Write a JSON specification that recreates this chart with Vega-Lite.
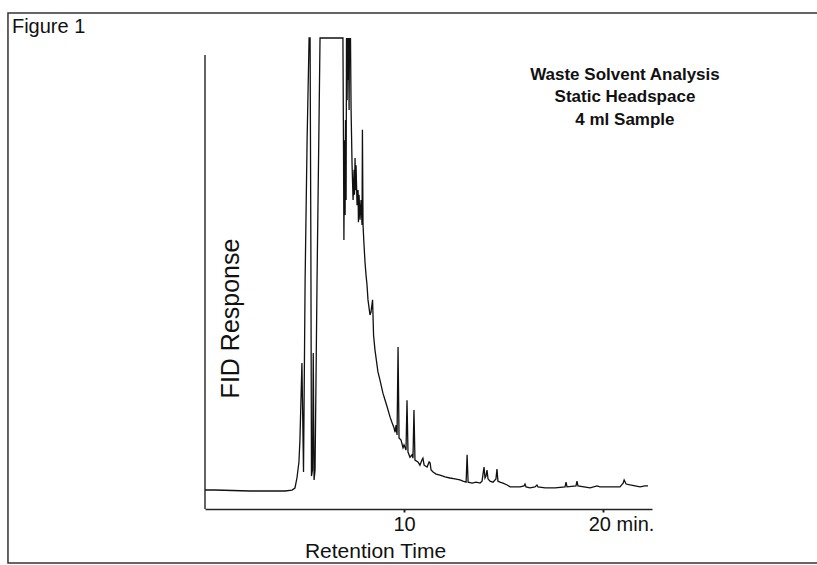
{
  "$schema": "https://vega.github.io/schema/vega-lite/v6.json",
  "width": 447,
  "height": 471,
  "autosize": {"type": "none"},
  "padding": {"left": 205, "top": 38, "right": 165, "bottom": 56},
  "background": "white",
  "config": {"view": {"stroke": null}, "font": "Liberation Sans"},
  "datasets": {
    "trace": [
      {"t": 0, "v": 4.03}, {"t": 0.5, "v": 4.03}, {"t": 2.26, "v": 3.82}, {"t": 4.02, "v": 3.82},
      {"t": 4.37, "v": 4.03}, {"t": 4.52, "v": 4.46}, {"t": 4.62, "v": 6.58}, {"t": 4.72, "v": 9.98},
      {"t": 4.77, "v": 14.65}, {"t": 4.87, "v": 31.0}, {"t": 4.95, "v": 7.86}, {"t": 5.03, "v": 48.6},
      {"t": 5.13, "v": 78.3}, {"t": 5.23, "v": 100}, {"t": 5.28, "v": 100}, {"t": 5.32, "v": 55.0},
      {"t": 5.35, "v": 7.0}, {"t": 5.40, "v": 8.28}, {"t": 5.44, "v": 33.1}, {"t": 5.48, "v": 6.16},
      {"t": 5.53, "v": 8.28}, {"t": 5.63, "v": 48.6}, {"t": 5.73, "v": 82.6}, {"t": 5.78, "v": 100},
      {"t": 6.93, "v": 100}, {"t": 6.96, "v": 76.2}, {"t": 6.98, "v": 57.1}, {"t": 7.01, "v": 78.3},
      {"t": 7.04, "v": 62.4}, {"t": 7.06, "v": 82.6}, {"t": 7.09, "v": 65.6}, {"t": 7.11, "v": 100},
      {"t": 7.14, "v": 86.8}, {"t": 7.16, "v": 100}, {"t": 7.19, "v": 91.1}, {"t": 7.21, "v": 100},
      {"t": 7.24, "v": 84.7}, {"t": 7.26, "v": 100}, {"t": 7.29, "v": 95.3}, {"t": 7.31, "v": 100},
      {"t": 7.34, "v": 84.7}, {"t": 7.39, "v": 73.0}, {"t": 7.44, "v": 65.6}, {"t": 7.49, "v": 72.0},
      {"t": 7.51, "v": 66.7}, {"t": 7.54, "v": 74.5}, {"t": 7.56, "v": 67.7}, {"t": 7.59, "v": 73.0},
      {"t": 7.64, "v": 64.5}, {"t": 7.69, "v": 67.7}, {"t": 7.71, "v": 60.9}, {"t": 7.74, "v": 66.7},
      {"t": 7.79, "v": 61.4}, {"t": 7.84, "v": 65.6}, {"t": 7.89, "v": 60.3}, {"t": 7.91, "v": 80.5},
      {"t": 7.94, "v": 60.3}, {"t": 7.99, "v": 56.1}, {"t": 8.04, "v": 52.4}, {"t": 8.09, "v": 49.7},
      {"t": 8.14, "v": 47.6}, {"t": 8.19, "v": 44.4}, {"t": 8.29, "v": 41.2}, {"t": 8.34, "v": 41.8},
      {"t": 8.42, "v": 44.4}, {"t": 8.47, "v": 36.9}, {"t": 8.54, "v": 33.8}, {"t": 8.69, "v": 29.1},
      {"t": 8.79, "v": 27.4}, {"t": 8.94, "v": 24.6}, {"t": 9.05, "v": 23.1}, {"t": 9.15, "v": 21.7},
      {"t": 9.30, "v": 19.5}, {"t": 9.40, "v": 18.3}, {"t": 9.50, "v": 17.2}, {"t": 9.55, "v": 16.3},
      {"t": 9.60, "v": 17.8}, {"t": 9.65, "v": 15.7}, {"t": 9.70, "v": 34.4}, {"t": 9.75, "v": 15.1},
      {"t": 9.85, "v": 14.65}, {"t": 9.95, "v": 13.0}, {"t": 10.00, "v": 13.6}, {"t": 10.10, "v": 12.5},
      {"t": 10.15, "v": 23.1}, {"t": 10.20, "v": 12.1}, {"t": 10.30, "v": 11.0}, {"t": 10.40, "v": 11.5},
      {"t": 10.45, "v": 10.8}, {"t": 10.50, "v": 21.0}, {"t": 10.55, "v": 10.4}, {"t": 10.70, "v": 10.0},
      {"t": 10.80, "v": 9.3}, {"t": 10.90, "v": 10.4}, {"t": 10.95, "v": 10.8}, {"t": 11.01, "v": 9.3},
      {"t": 11.16, "v": 8.9}, {"t": 11.26, "v": 10.0}, {"t": 11.31, "v": 9.8}, {"t": 11.36, "v": 8.28},
      {"t": 11.46, "v": 7.86}, {"t": 11.61, "v": 7.4}, {"t": 11.81, "v": 7.2}, {"t": 12.06, "v": 6.8},
      {"t": 12.31, "v": 6.58}, {"t": 12.56, "v": 6.4}, {"t": 12.81, "v": 6.16}, {"t": 12.96, "v": 5.9},
      {"t": 13.12, "v": 5.7}, {"t": 13.17, "v": 11.5}, {"t": 13.22, "v": 5.7}, {"t": 13.42, "v": 5.5},
      {"t": 13.62, "v": 5.7}, {"t": 13.82, "v": 5.5}, {"t": 13.92, "v": 5.9}, {"t": 14.02, "v": 8.9},
      {"t": 14.07, "v": 6.58}, {"t": 14.12, "v": 7.0}, {"t": 14.17, "v": 8.28}, {"t": 14.22, "v": 6.4},
      {"t": 14.32, "v": 5.9}, {"t": 14.47, "v": 5.7}, {"t": 14.62, "v": 6.4}, {"t": 14.67, "v": 8.5},
      {"t": 14.72, "v": 5.9}, {"t": 14.82, "v": 5.7}, {"t": 14.97, "v": 5.5}, {"t": 15.18, "v": 5.1},
      {"t": 15.33, "v": 4.7}, {"t": 15.58, "v": 4.7}, {"t": 15.83, "v": 4.7}, {"t": 16.03, "v": 4.9},
      {"t": 16.08, "v": 5.3}, {"t": 16.13, "v": 4.7}, {"t": 16.33, "v": 4.5}, {"t": 16.58, "v": 4.7},
      {"t": 16.68, "v": 5.1}, {"t": 16.73, "v": 4.7}, {"t": 17.09, "v": 4.5}, {"t": 17.59, "v": 4.5},
      {"t": 18.09, "v": 4.7}, {"t": 18.14, "v": 5.7}, {"t": 18.19, "v": 4.7}, {"t": 18.64, "v": 4.9},
      {"t": 18.69, "v": 5.9}, {"t": 18.74, "v": 4.9}, {"t": 19.35, "v": 4.5}, {"t": 19.70, "v": 4.9},
      {"t": 19.85, "v": 4.7}, {"t": 20.35, "v": 4.7}, {"t": 20.85, "v": 4.7}, {"t": 21.01, "v": 5.5},
      {"t": 21.06, "v": 6.16}, {"t": 21.16, "v": 5.3}, {"t": 21.36, "v": 5.1}, {"t": 21.61, "v": 4.9},
      {"t": 21.86, "v": 4.7}, {"t": 22.11, "v": 4.9}, {"t": 22.26, "v": 4.9}
    ]
  },
  "layer": [
    {
      "data": {"name": "trace"},
      "mark": {"type": "line", "color": "#111", "strokeWidth": 1.3, "clip": false, "interpolate": "linear"},
      "encoding": {
        "x": {
          "field": "t", "type": "quantitative",
          "scale": {"domain": [0, 22.46], "nice": false, "zero": false},
          "axis": {
            "values": [10, 20],
            "labelExpr": "datum.value == 20 ? '20 min.' : datum.label",
            "grid": false,
            "domainColor": "#222", "domainWidth": 1.5,
            "tickColor": "#222", "tickSize": 3, "tickWidth": 2,
            "labelFont": "Liberation Sans", "labelFontSize": 20, "labelColor": "#111",
            "labelPadding": 2,
            "labelOffset": {"condition": {"test": "datum.value == 20", "value": 18}, "value": 0},
            "title": "Retention Time",
            "titleFont": "Liberation Sans", "titleFontSize": 21, "titleFontWeight": "normal", "titleColor": "#111",
            "titleX": 170, "titleY": 48, "titleBaseline": "alphabetic", "titleAlign": "center"
          }
        },
        "y": {
          "field": "v", "type": "quantitative",
          "scale": {"domain": [0, 100], "nice": false, "zero": false},
          "axis": {
            "domain": false, "ticks": false, "labels": false, "grid": false,
            "title": "FID Response",
            "titleFont": "Liberation Sans", "titleFontSize": 25, "titleFontWeight": "normal", "titleColor": "#111",
            "titleAngle": 270, "titleX": 25, "titleY": 280, "titleAlign": "center", "titleBaseline": "middle"
          }
        }
      }
    },
    {
      "data": {"values": [{"item": "frame"}]},
      "mark": {"type": "rect", "fill": null, "stroke": "#333", "strokeWidth": 1.5, "clip": false},
      "encoding": {
        "x": {"datum": -9.9, "type": "quantitative"},
        "x2": {"datum": 30.9},
        "y": {"datum": 105.3, "type": "quantitative"},
        "y2": {"datum": -11.46}
      }
    },
    {
      "data": {"values": [{"item": "yaxis"}]},
      "mark": {"type": "rule", "color": "#222", "strokeWidth": 1.4, "clip": false},
      "encoding": {
        "x": {"datum": 0, "type": "quantitative"},
        "y": {"datum": 0, "type": "quantitative"},
        "y2": {"datum": 96.4}
      }
    },
    {
      "data": {"values": [{"item": "figure"}]},
      "mark": {
        "type": "text", "text": "Figure 1",
        "font": "Liberation Sans",
        "fontSize": 20, "fontWeight": "normal", "color": "#111",
        "align": "left", "baseline": "alphabetic", "clip": false
      },
      "encoding": {
        "x": {"datum": -9.7, "type": "quantitative"},
        "y": {"datum": 101.1, "type": "quantitative"}
      }
    },
    {
      "data": {"values": [{"item": "caption"}]},
      "mark": {
        "type": "text",
        "text": ["Waste Solvent Analysis", "Static Headspace", "4 ml Sample"],
        "font": "Liberation Sans",
        "fontSize": 17, "fontWeight": "bold", "color": "#111",
        "align": "center", "baseline": "alphabetic", "lineHeight": 22.5, "clip": false
      },
      "encoding": {
        "x": {"datum": 21.1, "type": "quantitative"},
        "y": {"datum": 91.1, "type": "quantitative"}
      }
    }
  ]
}
